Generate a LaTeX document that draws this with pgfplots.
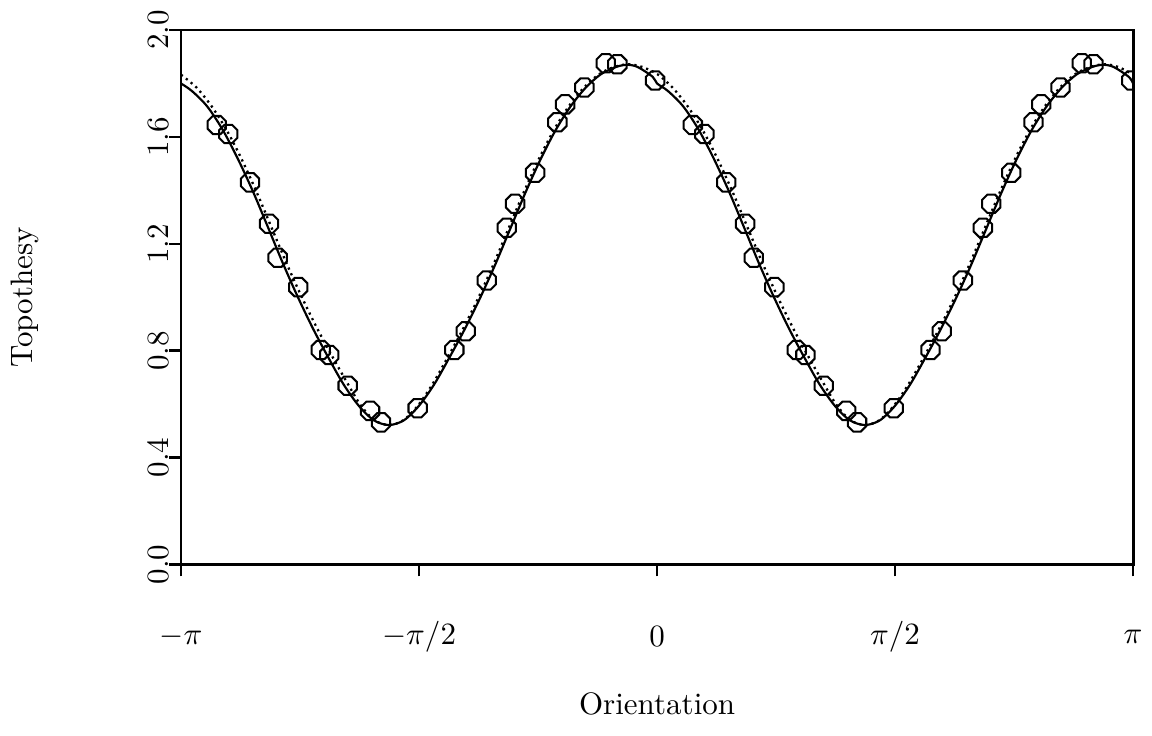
\documentclass[border=0pt]{standalone}
\usepackage{pgfplots}
\pgfplotsset{compat=1.18}
\pgfdeclareplotmark{oct}{%
  \pgfpathmoveto{\pgfqpointpolar{22.5}{\pgfplotmarksize}}%
  \pgfpathlineto{\pgfqpointpolar{67.5}{\pgfplotmarksize}}%
  \pgfpathlineto{\pgfqpointpolar{112.5}{\pgfplotmarksize}}%
  \pgfpathlineto{\pgfqpointpolar{157.5}{\pgfplotmarksize}}%
  \pgfpathlineto{\pgfqpointpolar{202.5}{\pgfplotmarksize}}%
  \pgfpathlineto{\pgfqpointpolar{247.5}{\pgfplotmarksize}}%
  \pgfpathlineto{\pgfqpointpolar{292.5}{\pgfplotmarksize}}%
  \pgfpathlineto{\pgfqpointpolar{337.5}{\pgfplotmarksize}}%
  \pgfpathclose
  \pgfusepathqstroke}
\begin{document}
\begin{tikzpicture}
\useasboundingbox (-58.4pt,-55.1pt) rectangle (313.2pt,182.1pt);
\begin{axis}[
  at={(0pt,0pt)}, anchor=south west,
  scale only axis, width=307.1pt, height=172.4pt,
  xmin=-3.14159, xmax=3.14159, ymin=0, ymax=2,
  clip marker paths=true,
  xtick={-3.14159,-1.5708,0,1.5708,3.14159},
  xticklabels={$-\pi$,$-\pi/2$,$0$,$\pi/2$,$\pi$},
  ytick={0,0.4,0.8,1.2,1.6,2.0},
  yticklabels={0.0,0.4,0.8,1.2,1.6,2.0},
  tick align=outside, major tick length=3.8pt,
  xtick pos=lower, ytick pos=left,
  axis line style={line width=0.9pt},
  every tick/.style={line width=0.85pt, black},
  xticklabel style={anchor=center, yshift=-19.5pt},
  yticklabel style={rotate=90, anchor=center, yshift=3.5pt},
  xlabel={Orientation}, ylabel={Topothesy},
  xlabel style={at={(axis description cs:0.5,-0.2605)}, anchor=center},
  ylabel style={at={(axis description cs:-0.1639,0.5)}, anchor=center},
]
% fitted curve (solid)
\addplot[black, line width=0.7pt, smooth, no marks] coordinates {
(-3.1416,1.80) (-3.07,1.772) (-2.97,1.715) (-2.87,1.63) (-2.77,1.522) (-2.67,1.40) (-2.57,1.265) (-2.47,1.128) (-2.37,1.0) (-2.27,0.882) (-2.17,0.775) (-2.07,0.675) (-1.97,0.595) (-1.87,0.54) (-1.77,0.522) (-1.67,0.54) (-1.57,0.595) (-1.47,0.675) (-1.37,0.775) (-1.27,0.88) (-1.17,0.995) (-1.07,1.12) (-0.97,1.255) (-0.87,1.39) (-0.77,1.515) (-0.67,1.625) (-0.57,1.715) (-0.47,1.785) (-0.37,1.835) (-0.27,1.862) (-0.199,1.870) (-0.129,1.862) (-0.029,1.825) (0,1.80)
(0.0716,1.772) (0.1716,1.715) (0.2716,1.63) (0.3716,1.522) (0.4716,1.40) (0.5716,1.265) (0.6716,1.128) (0.7716,1.0) (0.8716,0.882) (0.9716,0.775) (1.0716,0.675) (1.1716,0.595) (1.2716,0.54) (1.3716,0.522) (1.4716,0.54) (1.5716,0.595) (1.6716,0.675) (1.7716,0.775) (1.8716,0.88) (1.9716,0.995) (2.0716,1.12) (2.1716,1.255) (2.2716,1.39) (2.3716,1.515) (2.4716,1.625) (2.5716,1.715) (2.6716,1.785) (2.7716,1.835) (2.8716,1.862) (2.9426,1.870) (3.0126,1.862) (3.1126,1.825) (3.1416,1.80)
};
% second fit (dotted)
\addplot[black, line width=0.75pt, dash pattern=on 0.7pt off 1.3pt, smooth, no marks] coordinates {
(-3.1416,1.833) (-3.04,1.785) (-2.94,1.715) (-2.84,1.625) (-2.74,1.515) (-2.64,1.39) (-2.54,1.255) (-2.44,1.12) (-2.34,0.995) (-2.24,0.88) (-2.14,0.775) (-2.04,0.675) (-1.955,0.595) (-1.865,0.54) (-1.77,0.522) (-1.674,0.54) (-1.578,0.595) (-1.482,0.675) (-1.382,0.775) (-1.282,0.88) (-1.182,0.995) (-1.082,1.12) (-0.982,1.255) (-0.882,1.39) (-0.782,1.515) (-0.682,1.625) (-0.582,1.715) (-0.482,1.785) (-0.382,1.835) (-0.282,1.862) (-0.19,1.872) (-0.0984,1.862) (0.0016,1.835) (0.1016,1.785) (0.2016,1.715) (0.3016,1.625) (0.4016,1.515) (0.5016,1.39) (0.6016,1.255) (0.7016,1.12) (0.8016,0.995) (0.9016,0.88) (1.0016,0.775) (1.1016,0.675) (1.1866,0.595) (1.2766,0.54) (1.3716,0.522) (1.4676,0.54) (1.5636,0.595) (1.6596,0.675) (1.7596,0.775) (1.8596,0.88) (1.9596,0.995) (2.0596,1.12) (2.1596,1.255) (2.2596,1.39) (2.3596,1.515) (2.4596,1.625) (2.5596,1.715) (2.6596,1.785) (2.7596,1.835) (2.8596,1.862) (2.951,1.872) (3.0432,1.862) (3.1416,1.833)
};
% observations
\addplot[black, only marks, mark=oct, mark size=3.2pt, line width=0.65pt] coordinates {
(-2.906,1.645) (-2.830,1.611) (-2.686,1.430) (-2.561,1.275) (-2.504,1.148) (-2.368,1.038) (-2.220,0.803) (-2.163,0.784) (-2.042,0.669) (-1.894,0.575) (-1.822,0.532) (-1.580,0.585) (-1.338,0.803) (-1.263,0.873) (-1.124,1.063) (-0.992,1.260) (-0.937,1.350) (-0.805,1.466) (-0.658,1.655) (-0.607,1.722) (-0.480,1.785) (-0.339,1.876) (-0.262,1.872) (-0.013,1.811)
(0.236,1.645) (0.312,1.611) (0.456,1.430) (0.581,1.275) (0.638,1.148) (0.774,1.038) (0.922,0.803) (0.979,0.784) (1.100,0.669) (1.248,0.575) (1.320,0.532) (1.562,0.585) (1.804,0.803) (1.879,0.873) (2.018,1.063) (2.150,1.260) (2.205,1.350) (2.337,1.466) (2.484,1.655) (2.535,1.722) (2.662,1.785) (2.803,1.876) (2.880,1.872) (3.129,1.811)
};
\end{axis}
\end{tikzpicture}
\end{document}
